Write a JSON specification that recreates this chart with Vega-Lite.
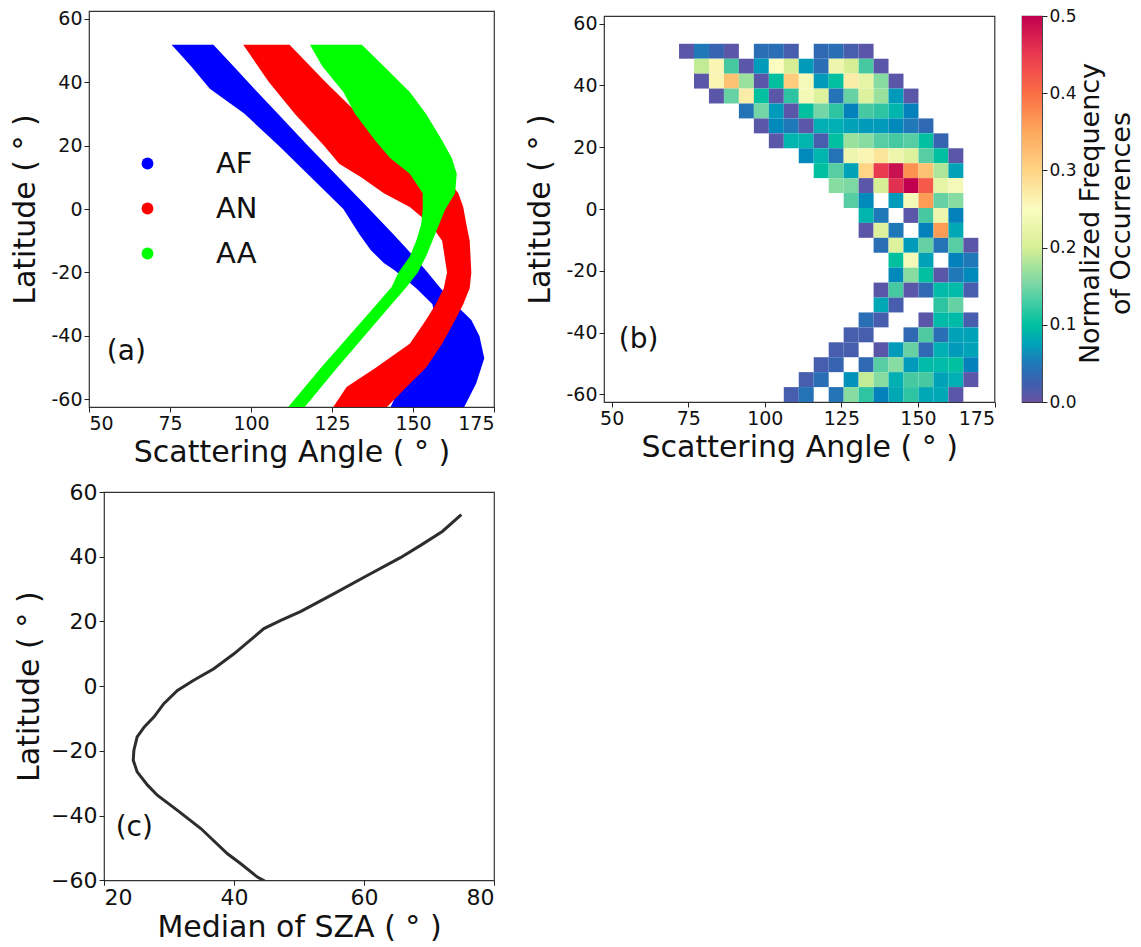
{
"$schema": "https://vega.github.io/schema/vega-lite/v6.json",
"background": "#ffffff",
"padding": {"left": 10, "top": 6, "right": 0, "bottom": 0},
"config": {
  "font": "DejaVu Sans",
  "view": {"stroke": "#333333", "strokeWidth": 1.2},
  "axis": {"grid": false, "domain": false, "tickColor": "#222222", "tickSize": 5, "tickWidth": 1, "labelColor": "#111111", "titleColor": "#111111", "titleFontWeight": "normal", "labelFontSize": 19, "titleFontSize": 30, "labelPadding": 2, "titlePadding": 4, "labelFont": "DejaVu Sans", "titleFont": "DejaVu Sans"}
},
"datasets": {
"bands": [
{"s":"AF","i":0,"x":75.5,"y":51.8},{"s":"AF","i":1,"x":81.5,"y":45},{"s":"AF","i":2,"x":87.3,"y":37.9},{"s":"AF","i":3,"x":98.0,"y":30},{"s":"AF","i":4,"x":108.5,"y":20},{"s":"AF","i":5,"x":118.5,"y":10},{"s":"AF","i":6,"x":128.5,"y":0},{"s":"AF","i":7,"x":133.5,"y":-8},{"s":"AF","i":8,"x":137.0,"y":-13},{"s":"AF","i":9,"x":141.0,"y":-17},{"s":"AF","i":10,"x":144.4,"y":-19.4},{"s":"AF","i":11,"x":151.0,"y":-25},{"s":"AF","i":12,"x":156.0,"y":-30},{"s":"AF","i":13,"x":157.0,"y":-35},{"s":"AF","i":14,"x":155.0,"y":-40},{"s":"AF","i":15,"x":151.0,"y":-47},{"s":"AF","i":16,"x":146.5,"y":-55},{"s":"AF","i":17,"x":142.8,"y":-63},
{"s":"AF","i":18,"x":165.5,"y":-63},{"s":"AF","i":19,"x":169.5,"y":-55},{"s":"AF","i":20,"x":172.0,"y":-47},{"s":"AF","i":21,"x":170.5,"y":-40},{"s":"AF","i":22,"x":168.0,"y":-35},{"s":"AF","i":23,"x":163.0,"y":-30},{"s":"AF","i":24,"x":158.5,"y":-25},{"s":"AF","i":25,"x":154.0,"y":-19.4},{"s":"AF","i":26,"x":152.0,"y":-17},{"s":"AF","i":27,"x":148.5,"y":-13},{"s":"AF","i":28,"x":144.0,"y":-8},{"s":"AF","i":29,"x":136.5,"y":0},{"s":"AF","i":30,"x":127.0,"y":10},{"s":"AF","i":31,"x":117.5,"y":20},{"s":"AF","i":32,"x":108.3,"y":30},{"s":"AF","i":33,"x":101.0,"y":37.9},{"s":"AF","i":34,"x":94.6,"y":45},{"s":"AF","i":35,"x":88.4,"y":51.8},
{"s":"AN","i":0,"x":97.6,"y":51.8},{"s":"AN","i":1,"x":105.5,"y":40},{"s":"AN","i":2,"x":113.5,"y":30},{"s":"AN","i":3,"x":122.5,"y":20},{"s":"AN","i":4,"x":127.2,"y":14.3},{"s":"AN","i":5,"x":134.0,"y":10},{"s":"AN","i":6,"x":141.0,"y":5},{"s":"AN","i":7,"x":149.0,"y":0.6},{"s":"AN","i":8,"x":155.5,"y":-5},{"s":"AN","i":9,"x":159.0,"y":-10},{"s":"AN","i":10,"x":160.5,"y":-20},{"s":"AN","i":11,"x":159.5,"y":-25},{"s":"AN","i":12,"x":157.0,"y":-30},{"s":"AN","i":13,"x":154.0,"y":-35},{"s":"AN","i":14,"x":149.0,"y":-42.5},{"s":"AN","i":15,"x":138.5,"y":-50},{"s":"AN","i":16,"x":129.5,"y":-56.1},{"s":"AN","i":17,"x":125.0,"y":-63},
{"s":"AN","i":18,"x":141.4,"y":-63},{"s":"AN","i":19,"x":148.0,"y":-56.1},{"s":"AN","i":20,"x":154.0,"y":-50},{"s":"AN","i":21,"x":159.0,"y":-42.5},{"s":"AN","i":22,"x":163.0,"y":-35},{"s":"AN","i":23,"x":165.5,"y":-30},{"s":"AN","i":24,"x":167.5,"y":-25},{"s":"AN","i":25,"x":168.0,"y":-20},{"s":"AN","i":26,"x":167.5,"y":-10},{"s":"AN","i":27,"x":166.5,"y":-5},{"s":"AN","i":28,"x":165.5,"y":0.6},{"s":"AN","i":29,"x":164.0,"y":5},{"s":"AN","i":30,"x":160.0,"y":10},{"s":"AN","i":31,"x":155.0,"y":14.3},{"s":"AN","i":32,"x":147.0,"y":20},{"s":"AN","i":33,"x":133.0,"y":30},{"s":"AN","i":34,"x":123.0,"y":40},{"s":"AN","i":35,"x":111.9,"y":51.8},
{"s":"AA","i":0,"x":118.2,"y":51.8},{"s":"AA","i":1,"x":122.0,"y":45},{"s":"AA","i":2,"x":128.5,"y":36.9},{"s":"AA","i":3,"x":132.1,"y":30},{"s":"AA","i":4,"x":138.3,"y":21.6},{"s":"AA","i":5,"x":143.0,"y":16},{"s":"AA","i":6,"x":149.0,"y":11.1},{"s":"AA","i":7,"x":153.0,"y":5},{"s":"AA","i":8,"x":153.0,"y":0},{"s":"AA","i":9,"x":152.5,"y":-5},{"s":"AA","i":10,"x":151.0,"y":-10},{"s":"AA","i":11,"x":149.0,"y":-15},{"s":"AA","i":12,"x":145.5,"y":-20},{"s":"AA","i":13,"x":143.4,"y":-24.6},{"s":"AA","i":14,"x":138.8,"y":-30},{"s":"AA","i":15,"x":130.2,"y":-40},{"s":"AA","i":16,"x":121.6,"y":-50},{"s":"AA","i":17,"x":111.0,"y":-63},
{"s":"AA","i":18,"x":116.1,"y":-63},{"s":"AA","i":19,"x":126.6,"y":-50},{"s":"AA","i":20,"x":135.0,"y":-40},{"s":"AA","i":21,"x":143.4,"y":-30},{"s":"AA","i":22,"x":148.0,"y":-24.6},{"s":"AA","i":23,"x":151.5,"y":-20},{"s":"AA","i":24,"x":154.0,"y":-15},{"s":"AA","i":25,"x":156.0,"y":-10},{"s":"AA","i":26,"x":158.0,"y":-5},{"s":"AA","i":27,"x":160.0,"y":0},{"s":"AA","i":28,"x":163.0,"y":5},{"s":"AA","i":29,"x":163.5,"y":11.1},{"s":"AA","i":30,"x":162.0,"y":16},{"s":"AA","i":31,"x":159.0,"y":21.6},{"s":"AA","i":32,"x":154.0,"y":30},{"s":"AA","i":33,"x":149.0,"y":36.9},{"s":"AA","i":34,"x":141.0,"y":45},{"s":"AA","i":35,"x":134.2,"y":51.8}
],
"heat": [
{"a":72,"b":76.89,"t":53.5,"u":48.67,"f":0.01},{"a":76.89,"b":81.77,"t":53.5,"u":48.67,"f":0.05},{"a":81.77,"b":86.66,"t":53.5,"u":48.67,"f":0.03},{"a":86.66,"b":91.54,"t":53.5,"u":48.67,"f":0.01},{"a":96.43,"b":101.32,"t":53.5,"u":48.67,"f":0.04},{"a":101.32,"b":106.2,"t":53.5,"u":48.67,"f":0.04},{"a":106.2,"b":111.09,"t":53.5,"u":48.67,"f":0.02},{"a":115.97,"b":120.86,"t":53.5,"u":48.67,"f":0.035},{"a":120.86,"b":125.75,"t":53.5,"u":48.67,"f":0.04},{"a":125.75,"b":130.63,"t":53.5,"u":48.67,"f":0.02},{"a":130.63,"b":135.52,"t":53.5,"u":48.67,"f":0.01},
{"a":76.89,"b":81.77,"t":48.67,"u":43.83,"f":0.19},{"a":81.77,"b":86.66,"t":48.67,"u":43.83,"f":0.26},{"a":86.66,"b":91.54,"t":48.67,"u":43.83,"f":0.12},{"a":91.54,"b":96.43,"t":48.67,"u":43.83,"f":0.01},{"a":96.43,"b":101.32,"t":48.67,"u":43.83,"f":0.07},{"a":101.32,"b":106.2,"t":48.67,"u":43.83,"f":0.25},{"a":106.2,"b":111.09,"t":48.67,"u":43.83,"f":0.2},{"a":111.09,"b":115.97,"t":48.67,"u":43.83,"f":0.07},{"a":115.97,"b":120.86,"t":48.67,"u":43.83,"f":0.04},{"a":120.86,"b":125.75,"t":48.67,"u":43.83,"f":0.23},{"a":125.75,"b":130.63,"t":48.67,"u":43.83,"f":0.2},{"a":130.63,"b":135.52,"t":48.67,"u":43.83,"f":0.12},{"a":135.52,"b":140.4,"t":48.67,"u":43.83,"f":0.01},
{"a":76.89,"b":81.77,"t":43.83,"u":39,"f":0.01},{"a":81.77,"b":86.66,"t":43.83,"u":39,"f":0.26},{"a":86.66,"b":91.54,"t":43.83,"u":39,"f":0.32},{"a":91.54,"b":96.43,"t":43.83,"u":39,"f":0.17},{"a":96.43,"b":101.32,"t":43.83,"u":39,"f":0.01},{"a":101.32,"b":106.2,"t":43.83,"u":39,"f":0.1},{"a":106.2,"b":111.09,"t":43.83,"u":39,"f":0.31},{"a":111.09,"b":115.97,"t":43.83,"u":39,"f":0.24},{"a":115.97,"b":120.86,"t":43.83,"u":39,"f":0.07},{"a":120.86,"b":125.75,"t":43.83,"u":39,"f":0.1},{"a":125.75,"b":130.63,"t":43.83,"u":39,"f":0.27},{"a":130.63,"b":135.52,"t":43.83,"u":39,"f":0.22},{"a":135.52,"b":140.4,"t":43.83,"u":39,"f":0.16},{"a":140.4,"b":145.29,"t":43.83,"u":39,"f":0.01},
{"a":81.77,"b":86.66,"t":39,"u":34.17,"f":0.01},{"a":86.66,"b":91.54,"t":39,"u":34.17,"f":0.14},{"a":91.54,"b":96.43,"t":39,"u":34.17,"f":0.27},{"a":96.43,"b":101.32,"t":39,"u":34.17,"f":0.1},{"a":101.32,"b":106.2,"t":39,"u":34.17,"f":0.01},{"a":106.2,"b":111.09,"t":39,"u":34.17,"f":0.11},{"a":111.09,"b":115.97,"t":39,"u":34.17,"f":0.24},{"a":115.97,"b":120.86,"t":39,"u":34.17,"f":0.21},{"a":120.86,"b":125.75,"t":39,"u":34.17,"f":0.045},{"a":125.75,"b":130.63,"t":39,"u":34.17,"f":0.14},{"a":130.63,"b":135.52,"t":39,"u":34.17,"f":0.21},{"a":135.52,"b":140.4,"t":39,"u":34.17,"f":0.17},{"a":140.4,"b":145.29,"t":39,"u":34.17,"f":0.07},{"a":145.29,"b":150.18,"t":39,"u":34.17,"f":0.01},
{"a":91.54,"b":96.43,"t":34.17,"u":29.33,"f":0.045},{"a":96.43,"b":101.32,"t":34.17,"u":29.33,"f":0.15},{"a":101.32,"b":106.2,"t":34.17,"u":29.33,"f":0.07},{"a":106.2,"b":111.09,"t":34.17,"u":29.33,"f":0.01},{"a":111.09,"b":115.97,"t":34.17,"u":29.33,"f":0.1},{"a":115.97,"b":120.86,"t":34.17,"u":29.33,"f":0.15},{"a":120.86,"b":125.75,"t":34.17,"u":29.33,"f":0.11},{"a":125.75,"b":130.63,"t":34.17,"u":29.33,"f":0.055},{"a":130.63,"b":135.52,"t":34.17,"u":29.33,"f":0.12},{"a":135.52,"b":140.4,"t":34.17,"u":29.33,"f":0.11},{"a":140.4,"b":145.29,"t":34.17,"u":29.33,"f":0.09},{"a":145.29,"b":150.18,"t":34.17,"u":29.33,"f":0.055},
{"a":96.43,"b":101.32,"t":29.33,"u":24.5,"f":0.01},{"a":101.32,"b":106.2,"t":29.33,"u":24.5,"f":0.06},{"a":106.2,"b":111.09,"t":29.33,"u":24.5,"f":0.05},{"a":111.09,"b":115.97,"t":29.33,"u":24.5,"f":0.01},{"a":115.97,"b":120.86,"t":29.33,"u":24.5,"f":0.085},{"a":120.86,"b":125.75,"t":29.33,"u":24.5,"f":0.085},{"a":125.75,"b":130.63,"t":29.33,"u":24.5,"f":0.075},{"a":130.63,"b":135.52,"t":29.33,"u":24.5,"f":0.07},{"a":135.52,"b":140.4,"t":29.33,"u":24.5,"f":0.07},{"a":140.4,"b":145.29,"t":29.33,"u":24.5,"f":0.06},{"a":145.29,"b":150.18,"t":29.33,"u":24.5,"f":0.05},{"a":150.18,"b":155.06,"t":29.33,"u":24.5,"f":0.035},
{"a":101.32,"b":106.2,"t":24.5,"u":19.67,"f":0.01},{"a":106.2,"b":111.09,"t":24.5,"u":19.67,"f":0.09},{"a":111.09,"b":115.97,"t":24.5,"u":19.67,"f":0.09},{"a":115.97,"b":120.86,"t":24.5,"u":19.67,"f":0.02},{"a":120.86,"b":125.75,"t":24.5,"u":19.67,"f":0.1},{"a":125.75,"b":130.63,"t":24.5,"u":19.67,"f":0.17},{"a":130.63,"b":135.52,"t":24.5,"u":19.67,"f":0.16},{"a":135.52,"b":140.4,"t":24.5,"u":19.67,"f":0.13},{"a":140.4,"b":145.29,"t":24.5,"u":19.67,"f":0.12},{"a":145.29,"b":150.18,"t":24.5,"u":19.67,"f":0.13},{"a":150.18,"b":155.06,"t":24.5,"u":19.67,"f":0.1},{"a":155.06,"b":159.95,"t":24.5,"u":19.67,"f":0.03},
{"a":111.09,"b":115.97,"t":19.67,"u":14.83,"f":0.06},{"a":115.97,"b":120.86,"t":19.67,"u":14.83,"f":0.09},{"a":120.86,"b":125.75,"t":19.67,"u":14.83,"f":0.045},{"a":125.75,"b":130.63,"t":19.67,"u":14.83,"f":0.23},{"a":130.63,"b":135.52,"t":19.67,"u":14.83,"f":0.26},{"a":135.52,"b":140.4,"t":19.67,"u":14.83,"f":0.28},{"a":140.4,"b":145.29,"t":19.67,"u":14.83,"f":0.23},{"a":145.29,"b":150.18,"t":19.67,"u":14.83,"f":0.21},{"a":150.18,"b":155.06,"t":19.67,"u":14.83,"f":0.13},{"a":155.06,"b":159.95,"t":19.67,"u":14.83,"f":0.1},{"a":159.95,"b":164.83,"t":19.67,"u":14.83,"f":0.01},
{"a":115.97,"b":120.86,"t":14.83,"u":10,"f":0.1},{"a":120.86,"b":125.75,"t":14.83,"u":10,"f":0.13},{"a":125.75,"b":130.63,"t":14.83,"u":10,"f":0.075},{"a":130.63,"b":135.52,"t":14.83,"u":10,"f":0.3},{"a":135.52,"b":140.4,"t":14.83,"u":10,"f":0.45},{"a":140.4,"b":145.29,"t":14.83,"u":10,"f":0.49},{"a":145.29,"b":150.18,"t":14.83,"u":10,"f":0.37},{"a":150.18,"b":155.06,"t":14.83,"u":10,"f":0.32},{"a":155.06,"b":159.95,"t":14.83,"u":10,"f":0.18},{"a":159.95,"b":164.83,"t":14.83,"u":10,"f":0.075},
{"a":120.86,"b":125.75,"t":10,"u":5.17,"f":0.16},{"a":125.75,"b":130.63,"t":10,"u":5.17,"f":0.155},{"a":130.63,"b":135.52,"t":10,"u":5.17,"f":0.01},{"a":135.52,"b":140.4,"t":10,"u":5.17,"f":0.2},{"a":140.4,"b":145.29,"t":10,"u":5.17,"f":0.46},{"a":145.29,"b":150.18,"t":10,"u":5.17,"f":0.5},{"a":150.18,"b":155.06,"t":10,"u":5.17,"f":0.42},{"a":155.06,"b":159.95,"t":10,"u":5.17,"f":0.22},{"a":159.95,"b":164.83,"t":10,"u":5.17,"f":0.24},
{"a":125.75,"b":130.63,"t":5.17,"u":0.33,"f":0.13},{"a":130.63,"b":135.52,"t":5.17,"u":0.33,"f":0.06},{"a":140.4,"b":145.29,"t":5.17,"u":0.33,"f":0.07},{"a":145.29,"b":150.18,"t":5.17,"u":0.33,"f":0.24},{"a":150.18,"b":155.06,"t":5.17,"u":0.33,"f":0.36},{"a":155.06,"b":159.95,"t":5.17,"u":0.33,"f":0.14},{"a":159.95,"b":164.83,"t":5.17,"u":0.33,"f":0.16},
{"a":130.63,"b":135.52,"t":0.33,"u":-4.5,"f":0.09},{"a":135.52,"b":140.4,"t":0.33,"u":-4.5,"f":0.05},{"a":145.29,"b":150.18,"t":0.33,"u":-4.5,"f":0.01},{"a":150.18,"b":155.06,"t":0.33,"u":-4.5,"f":0.12},{"a":155.06,"b":159.95,"t":0.33,"u":-4.5,"f":0.23},{"a":159.95,"b":164.83,"t":0.33,"u":-4.5,"f":0.055},
{"a":130.63,"b":135.52,"t":-4.5,"u":-9.33,"f":0.01},{"a":135.52,"b":140.4,"t":-4.5,"u":-9.33,"f":0.21},{"a":140.4,"b":145.29,"t":-4.5,"u":-9.33,"f":0.05},{"a":150.18,"b":155.06,"t":-4.5,"u":-9.33,"f":0.055},{"a":155.06,"b":159.95,"t":-4.5,"u":-9.33,"f":0.36},{"a":159.95,"b":164.83,"t":-4.5,"u":-9.33,"f":0.08},
{"a":135.52,"b":140.4,"t":-9.33,"u":-14.17,"f":0.04},{"a":140.4,"b":145.29,"t":-9.33,"u":-14.17,"f":0.21},{"a":145.29,"b":150.18,"t":-9.33,"u":-14.17,"f":0.07},{"a":150.18,"b":155.06,"t":-9.33,"u":-14.17,"f":0.14},{"a":155.06,"b":159.95,"t":-9.33,"u":-14.17,"f":0.045},{"a":159.95,"b":164.83,"t":-9.33,"u":-14.17,"f":0.13},{"a":164.83,"b":169.72,"t":-9.33,"u":-14.17,"f":0.01},
{"a":140.4,"b":145.29,"t":-14.17,"u":-19,"f":0.1},{"a":145.29,"b":150.18,"t":-14.17,"u":-19,"f":0.24},{"a":150.18,"b":155.06,"t":-14.17,"u":-19,"f":0.075},{"a":159.95,"b":164.83,"t":-14.17,"u":-19,"f":0.055},{"a":164.83,"b":169.72,"t":-14.17,"u":-19,"f":0.05},
{"a":140.4,"b":145.29,"t":-19,"u":-23.83,"f":0.06},{"a":145.29,"b":150.18,"t":-19,"u":-23.83,"f":0.16},{"a":150.18,"b":155.06,"t":-19,"u":-23.83,"f":0.1},{"a":155.06,"b":159.95,"t":-19,"u":-23.83,"f":0.01},{"a":159.95,"b":164.83,"t":-19,"u":-23.83,"f":0.05},{"a":164.83,"b":169.72,"t":-19,"u":-23.83,"f":0.06},
{"a":135.52,"b":140.4,"t":-23.83,"u":-28.67,"f":0.01},{"a":140.4,"b":145.29,"t":-23.83,"u":-28.67,"f":0.12},{"a":145.29,"b":150.18,"t":-23.83,"u":-28.67,"f":0.01},{"a":150.18,"b":155.06,"t":-23.83,"u":-28.67,"f":0.035},{"a":155.06,"b":159.95,"t":-23.83,"u":-28.67,"f":0.095},{"a":159.95,"b":164.83,"t":-23.83,"u":-28.67,"f":0.095},{"a":164.83,"b":169.72,"t":-23.83,"u":-28.67,"f":0.02},
{"a":135.52,"b":140.4,"t":-28.67,"u":-33.5,"f":0.08},{"a":140.4,"b":145.29,"t":-28.67,"u":-33.5,"f":0.02},{"a":155.06,"b":159.95,"t":-28.67,"u":-33.5,"f":0.11},{"a":159.95,"b":164.83,"t":-28.67,"u":-33.5,"f":0.14},
{"a":130.63,"b":135.52,"t":-33.5,"u":-38.33,"f":0.04},{"a":135.52,"b":140.4,"t":-33.5,"u":-38.33,"f":0.02},{"a":150.18,"b":155.06,"t":-33.5,"u":-38.33,"f":0.01},{"a":155.06,"b":159.95,"t":-33.5,"u":-38.33,"f":0.095},{"a":159.95,"b":164.83,"t":-33.5,"u":-38.33,"f":0.095},{"a":164.83,"b":169.72,"t":-33.5,"u":-38.33,"f":0.02},
{"a":125.75,"b":130.63,"t":-38.33,"u":-43.17,"f":0.02},{"a":130.63,"b":135.52,"t":-38.33,"u":-43.17,"f":0.02},{"a":145.29,"b":150.18,"t":-38.33,"u":-43.17,"f":0.035},{"a":150.18,"b":155.06,"t":-38.33,"u":-43.17,"f":0.125},{"a":155.06,"b":159.95,"t":-38.33,"u":-43.17,"f":0.04},{"a":159.95,"b":164.83,"t":-38.33,"u":-43.17,"f":0.075},{"a":164.83,"b":169.72,"t":-38.33,"u":-43.17,"f":0.075},
{"a":120.86,"b":125.75,"t":-43.17,"u":-48,"f":0.02},{"a":125.75,"b":130.63,"t":-43.17,"u":-48,"f":0.02},{"a":135.52,"b":140.4,"t":-43.17,"u":-48,"f":0.01},{"a":140.4,"b":145.29,"t":-43.17,"u":-48,"f":0.07},{"a":145.29,"b":150.18,"t":-43.17,"u":-48,"f":0.14},{"a":150.18,"b":155.06,"t":-43.17,"u":-48,"f":0.035},{"a":155.06,"b":159.95,"t":-43.17,"u":-48,"f":0.085},{"a":159.95,"b":164.83,"t":-43.17,"u":-48,"f":0.07},{"a":164.83,"b":169.72,"t":-43.17,"u":-48,"f":0.075},
{"a":115.97,"b":120.86,"t":-48,"u":-52.83,"f":0.02},{"a":120.86,"b":125.75,"t":-48,"u":-52.83,"f":0.03},{"a":130.63,"b":135.52,"t":-48,"u":-52.83,"f":0.035},{"a":135.52,"b":140.4,"t":-48,"u":-52.83,"f":0.13},{"a":140.4,"b":145.29,"t":-48,"u":-52.83,"f":0.16},{"a":145.29,"b":150.18,"t":-48,"u":-52.83,"f":0.07},{"a":150.18,"b":155.06,"t":-48,"u":-52.83,"f":0.095},{"a":155.06,"b":159.95,"t":-48,"u":-52.83,"f":0.095},{"a":159.95,"b":164.83,"t":-48,"u":-52.83,"f":0.1},{"a":164.83,"b":169.72,"t":-48,"u":-52.83,"f":0.055},
{"a":111.09,"b":115.97,"t":-52.83,"u":-57.67,"f":0.02},{"a":115.97,"b":120.86,"t":-52.83,"u":-57.67,"f":0.04},{"a":125.75,"b":130.63,"t":-52.83,"u":-57.67,"f":0.065},{"a":130.63,"b":135.52,"t":-52.83,"u":-57.67,"f":0.19},{"a":135.52,"b":140.4,"t":-52.83,"u":-57.67,"f":0.16},{"a":140.4,"b":145.29,"t":-52.83,"u":-57.67,"f":0.085},{"a":145.29,"b":150.18,"t":-52.83,"u":-57.67,"f":0.12},{"a":150.18,"b":155.06,"t":-52.83,"u":-57.67,"f":0.12},{"a":155.06,"b":159.95,"t":-52.83,"u":-57.67,"f":0.075},{"a":159.95,"b":164.83,"t":-52.83,"u":-57.67,"f":0.085},{"a":164.83,"b":169.72,"t":-52.83,"u":-57.67,"f":0.01},
{"a":106.2,"b":111.09,"t":-57.67,"u":-62.5,"f":0.02},{"a":111.09,"b":115.97,"t":-57.67,"u":-62.5,"f":0.045},{"a":120.86,"b":125.75,"t":-57.67,"u":-62.5,"f":0.045},{"a":125.75,"b":130.63,"t":-57.67,"u":-62.5,"f":0.16},{"a":130.63,"b":135.52,"t":-57.67,"u":-62.5,"f":0.11},{"a":135.52,"b":140.4,"t":-57.67,"u":-62.5,"f":0.055},{"a":140.4,"b":145.29,"t":-57.67,"u":-62.5,"f":0.08},{"a":145.29,"b":150.18,"t":-57.67,"u":-62.5,"f":0.11},{"a":150.18,"b":155.06,"t":-57.67,"u":-62.5,"f":0.08},{"a":155.06,"b":159.95,"t":-57.67,"u":-62.5,"f":0.08},{"a":159.95,"b":164.83,"t":-57.67,"u":-62.5,"f":0.01}
],
"sza": [
{"sza":74.97,"lat":53.0},{"sza":72.05,"lat":47.8},{"sza":68.7,"lat":43.5},{"sza":65.6,"lat":39.7},{"sza":60.5,"lat":34.2},{"sza":55.4,"lat":28.6},{"sza":50.3,"lat":23.1},{"sza":47.2,"lat":20.3},{"sza":44.6,"lat":17.8},{"sza":43.1,"lat":15.2},{"sza":40.0,"lat":10.0},{"sza":36.9,"lat":5.4},{"sza":33.8,"lat":1.8},{"sza":31.3,"lat":-1.3},{"sza":29.2,"lat":-5.4},{"sza":27.7,"lat":-9.5},{"sza":26.2,"lat":-12.6},{"sza":25.1,"lat":-15.7},{"sza":24.6,"lat":-19.8},{"sza":24.5,"lat":-22.9},{"sza":25.1,"lat":-26.5},{"sza":26.7,"lat":-30.6},{"sza":28.2,"lat":-33.7},{"sza":31.3,"lat":-38.4},{"sza":34.9,"lat":-44.0},{"sza":39.0,"lat":-51.8},{"sza":41.0,"lat":-54.8},{"sza":43.6,"lat":-59.0},{"sza":44.8,"lat":-60.3}
]
},
"vconcat": [
{
"hconcat": [
{
 "width": 405, "height": 396,
 "layer": [
  {"data": {"name": "bands"}, "transform": [{"filter": "datum.s === 'AF'"}],
   "mark": {"type": "line", "filled": true, "clip": true, "strokeWidth": 0, "opacity": 1},
   "encoding": {
     "y": {"field": "y", "type": "quantitative", "scale": {"domain": [-62.4, 62.4], "nice": false, "zero": false}, "axis": {"values": [-60, -40, -20, 0, 20, 40, 60], "labelExpr": "'' + datum.value", "title": "Latitude ( ° )", "titlePadding": 10}},
     "x": {"field": "x", "type": "quantitative", "scale": {"domain": [50, 175], "nice": false, "zero": false}, "axis": {"values": [50, 75, 100, 125, 150, 175], "title": "Scattering Angle ( ° )"}},
     "order": {"field": "i", "type": "quantitative"},
     "color": {"field": "s", "type": "nominal", "scale": {"domain": ["AF", "AN", "AA"], "range": ["#0000ff", "#ff0000", "#00ff00"]},
       "legend": {"orient": "none", "legendX": 44, "legendY": 138, "title": null, "symbolType": "circle", "symbolSize": 140, "symbolOpacity": 1, "symbolStrokeWidth": 0, "labelFontSize": 29, "labelOffset": 54, "rowPadding": 15, "padding": 0, "labelColor": "#111111", "labelFont": "DejaVu Sans"}}
   }},
  {"data": {"name": "bands"}, "transform": [{"filter": "datum.s === 'AN'"}],
   "mark": {"type": "line", "filled": true, "clip": true, "strokeWidth": 0, "opacity": 1},
   "encoding": {
     "y": {"field": "y", "type": "quantitative"},
     "x": {"field": "x", "type": "quantitative"},
     "order": {"field": "i", "type": "quantitative"},
     "color": {"field": "s", "type": "nominal"}
   }},
  {"data": {"name": "bands"}, "transform": [{"filter": "datum.s === 'AA'"}],
   "mark": {"type": "line", "filled": true, "clip": true, "strokeWidth": 0, "opacity": 1},
   "encoding": {
     "y": {"field": "y", "type": "quantitative"},
     "x": {"field": "x", "type": "quantitative"},
     "order": {"field": "i", "type": "quantitative"},
     "color": {"field": "s", "type": "nominal"}
   }},
  {"data": {"values": [{"x": 55.5, "y": -45, "t": "(a)"}]},
   "mark": {"type": "text", "align": "left", "baseline": "middle", "fontSize": 28, "color": "#111111"},
   "encoding": {"x": {"field": "x", "type": "quantitative"}, "y": {"field": "y", "type": "quantitative"}, "text": {"field": "t"}}}
 ]
},
{"width": 99.3, "height": 386, "data": {"values": [{}]}, "mark": {"type": "point", "opacity": 0}, "encoding": {}, "view": {"stroke": null}},
{
 "width": 390.5, "height": 386,
 "layer": [
  {"data": {"name": "heat"}, "mark": {"type": "rect"},
   "encoding": {
     "x": {"field": "a", "type": "quantitative", "scale": {"domain": [47.5, 175], "nice": false, "zero": false}, "axis": {"values": [50, 75, 100, 125, 150, 175], "title": "Scattering Angle ( ° )"}},
     "x2": {"field": "b"},
     "y": {"field": "t", "type": "quantitative", "scale": {"domain": [-62.5, 62.5], "nice": false, "zero": false}, "axis": {"values": [-60, -40, -20, 0, 20, 40, 60], "labelExpr": "'' + datum.value", "title": "Latitude ( ° )", "titlePadding": 10}},
     "y2": {"field": "u"},
     "color": {"field": "f", "type": "quantitative", "legend": null,
       "scale": {"domain": [0, 0.025, 0.05, 0.075, 0.1, 0.15, 0.2, 0.25, 0.3, 0.35, 0.4, 0.45, 0.5],
                 "range": ["#6a52a3", "#3c5fae", "#1f78b8", "#00a2b8", "#00c0a0", "#74d6a6", "#d6ef94", "#fbfcc0", "#fed485", "#fda85c", "#fb6e45", "#ea3a50", "#c0004e"]}}
   }},
  {"data": {"values": [{"x": 52.3, "y": -42.5, "t": "(b)"}]},
   "mark": {"type": "text", "align": "left", "baseline": "middle", "fontSize": 28, "color": "#111111"},
   "encoding": {"x": {"field": "x", "type": "quantitative"}, "y": {"field": "y", "type": "quantitative"}, "text": {"field": "t"}}}
 ]
},
{"width": 16.2, "height": 386, "data": {"values": [{}]}, "mark": {"type": "point", "opacity": 0}, "encoding": {}, "view": {"stroke": null}},
{
 "width": 20, "height": 386,
 "data": {"values": [{"lo": 0, "hi": 0.5}]},
 "mark": {"type": "rect", "color": {"gradient": "linear", "x1": 0, "y1": 1, "x2": 0, "y2": 0,
   "stops": [{"offset": 0, "color": "#6a52a3"}, {"offset": 0.05, "color": "#3c5fae"}, {"offset": 0.1, "color": "#1f78b8"}, {"offset": 0.15, "color": "#00a2b8"}, {"offset": 0.2, "color": "#00c0a0"}, {"offset": 0.3, "color": "#74d6a6"}, {"offset": 0.4, "color": "#d6ef94"}, {"offset": 0.5, "color": "#fbfcc0"}, {"offset": 0.6, "color": "#fed485"}, {"offset": 0.7, "color": "#fda85c"}, {"offset": 0.8, "color": "#fb6e45"}, {"offset": 0.9, "color": "#ea3a50"}, {"offset": 1, "color": "#c0004e"}]}},
 "encoding": {
   "y": {"field": "lo", "type": "quantitative", "scale": {"domain": [0, 0.5], "nice": false, "zero": false},
     "axis": {"orient": "right", "values": [0, 0.1, 0.2, 0.3, 0.4, 0.5], "format": ".1f", "labelFontSize": 17, "title": ["Normalized Frequency", "of Occurrences"], "titleFontSize": 27, "titleAngle": 270, "titleAlign": "center", "titleBaseline": "middle", "titleLineHeight": 31, "titleX": 48, "titleY": 197}},
   "y2": {"field": "hi"}
 }
}
],
"bounds": "flush",
"spacing": 5,
"center": true
},
{
"hconcat": [
{"width": 9.3, "height": 388, "data": {"values": [{}]}, "mark": {"type": "point", "opacity": 0}, "encoding": {}, "view": {"stroke": null}},
{
 "width": 390, "height": 388.3,
 "layer": [
  {"data": {"name": "sza"}, "mark": {"type": "line", "clip": true, "strokeWidth": 3, "color": "#2d2d2d"},
   "encoding": {
     "x": {"field": "sza", "type": "quantitative", "scale": {"domain": [20, 80], "nice": false, "zero": false}, "axis": {"values": [20, 40, 60, 80], "title": "Median of SZA ( ° )", "labelFontSize": 22}},
     "y": {"field": "lat", "type": "quantitative", "scale": {"domain": [-60, 60], "nice": false, "zero": false}, "axis": {"values": [-60, -40, -20, 0, 20, 40, 60], "title": "Latitude ( ° )", "labelFontSize": 22, "titlePadding": 6}},
     "order": {"field": "lat", "type": "quantitative"}
   }},
  {"data": {"values": [{"x": 21.8, "y": -43.8, "t": "(c)"}]},
   "mark": {"type": "text", "align": "left", "baseline": "middle", "fontSize": 28, "color": "#111111"},
   "encoding": {"x": {"field": "x", "type": "quantitative"}, "y": {"field": "y", "type": "quantitative"}, "text": {"field": "t"}}}
 ]
}
],
"bounds": "flush",
"spacing": 5
}
],
"spacing": 12,
"bounds": "full"
}
